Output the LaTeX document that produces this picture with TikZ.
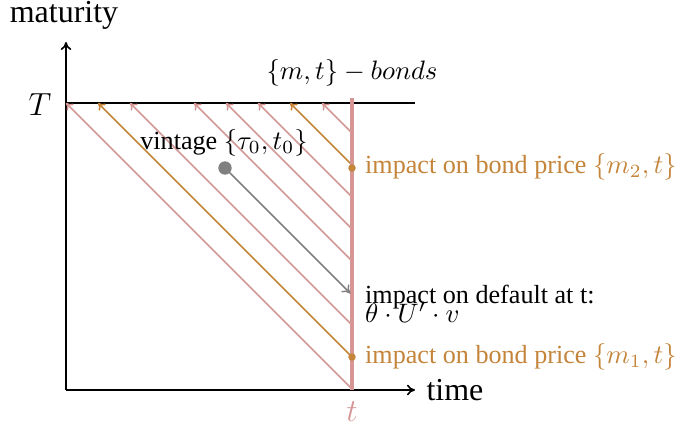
\documentclass[tikz,border=0pt]{standalone}
\usepackage{fontspec}
\setmainfont{Liberation Serif}
\usetikzlibrary{arrows.meta}
\definecolor{pinkl}{RGB}{214,150,150}
\definecolor{orng}{RGB}{196,132,58}
\definecolor{greyl}{RGB}{128,128,128}
\begin{document}
\begin{tikzpicture}[x=0.375pt,y=-0.375pt,
  axis/.style={line width=0.6pt,-{To[length=3pt,width=4pt]}},
  diag/.style={pinkl,line width=0.55pt,-{To[length=2.5pt,width=3.5pt]}},
  odiag/.style={orng,line width=0.6pt,-{To[length=2.5pt,width=3.5pt]}},
  lbl/.style={font=\fontsize{9.8}{10.5}\selectfont},
  olbl/.style={lbl,text=orng,anchor=west,inner sep=1pt}]
\useasboundingbox (0,0) rectangle (677,431);
\coordinate (O) at (66,390);
\coordinate (Ytop) at (66,42);
\coordinate (Xend) at (415,390);
\coordinate (TL) at (66,103);
\coordinate (TR) at (415,103);
\coordinate (Vtop) at (352,98);
\coordinate (Vbot) at (352,390);
% axes
\draw[axis] (O) -- (Ytop);
\draw[axis] (O) -- (Xend);
\draw[line width=0.6pt] (TL) -- (TR);
% diagonals
\foreach \x in {66,130,194,226,258,322}{
  \pgfmathsetmacro{\ye}{103+352-\x}
  \coordinate (s\x) at (352,\ye);
  \coordinate (e\x) at (\x,103);
  \draw[diag] (s\x) -- (e\x);
}
\foreach \x in {98,290}{
  \pgfmathsetmacro{\ye}{103+352-\x}
  \coordinate (s\x) at (352,\ye);
  \coordinate (e\x) at (\x,103);
  \draw[odiag] (s\x) -- (e\x);
}
\draw[pinkl,line width=1.2pt] (Vtop) -- (Vbot);
% vintage
\node[circle,fill=greyl,inner sep=0pt,minimum size=5pt] (vin) at (225,168) {};
\coordinate (def) at (350.5,293.5);
\draw[greyl,line width=0.55pt,-{To[length=3pt,width=4pt]}] (vin.center) -- (def);
\node[lbl] (vlab) at (224,143) {vintage $\{\tau_0,t_0\}$};
% dots
\node[circle,fill=orng,inner sep=0pt,minimum size=2.8pt] (m2) at (352,168) {};
\node[circle,fill=orng,inner sep=0pt,minimum size=2.8pt] (m1) at (352,357) {};
\node[olbl] (m2lab) at (362,167) {impact on bond price $\{m_2,t\}$};
\node[olbl] (m1lab) at (362,357) {impact on bond price $\{m_1,t\}$};
\node[lbl,anchor=west,inner sep=1pt,align=left] (deflab) at (362,304) {impact on default at t:\\[-3.5pt]$\theta\cdot U'\cdot v$};
% labels
\node[font=\fontsize{12}{13}\selectfont] (mat) at (64,15) {maturity};
\node[font=\fontsize{12}{13}\selectfont] (time) at (455,390) {time};
\node[font=\fontsize{12}{13}\selectfont] (Tl) at (40,105) {$T$};
\node[lbl] (bonds) at (352,73) {$\{m,t\}-bonds$};
\node[text=pinkl,font=\fontsize{12}{13}\selectfont] (tl) at (352,412) {$t$};
\end{tikzpicture}
\end{document}
